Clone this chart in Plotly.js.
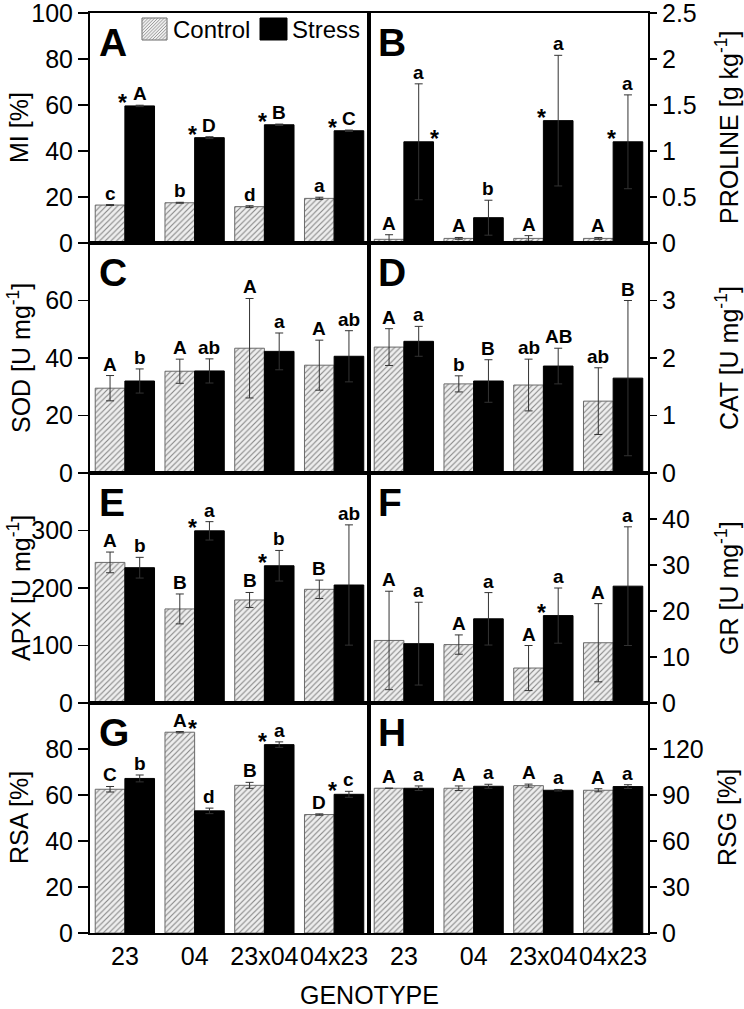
<!DOCTYPE html>
<html>
<head>
<meta charset="utf-8">
<script src="https://cdn.plot.ly/plotly-3.0.1.min.js"></script>
<style>html,body{margin:0;padding:0;background:#fff;}</style>
</head>
<body>
<div id="chart" style="width:744px;height:1009px;"></div>
<script>
const genotypes = ['23', '04', '23x04', '04x23'];
const seriesNames = ['Control', 'Stress'];

// A: MI [%]
const miControl = [16.5, 17.5, 15.8, 19.4];
const miControlErr = [0.2, 0.2, 0.4, 0.5];
const miStress = [59.6, 45.8, 51.4, 48.8];
const miStressErr = [0.3, 0.4, 0.3, 0.3];
const miControlLetters = ['c', 'b', 'd', 'a'];
const miStressLetters = ['A', 'D', 'B', 'C'];
const miStars = ['*', '*', '*', '*'];
const miTicks = [0, 20, 40, 60, 80, 100];

// B: PROLINE [g kg-1]
const prolineControl = [0.04, 0.05, 0.05, 0.05];
const prolineControlErr = [0.05, 0.01, 0.03, 0.01];
const prolineStress = [1.10, 0.275, 1.33, 1.10];
const prolineStressErr = [0.63, 0.19, 0.71, 0.51];
const prolineControlLetters = ['A', 'A', 'A', 'A'];
const prolineStressLetters = ['a', 'b', 'a', 'a'];
const prolineStars = ['*', '', '*', '*'];
const prolineTicks = [0, 0.5, 1, 1.5, 2, 2.5];

// C: SOD [U mg-1]
const sodControl = [29.5, 35.4, 43.4, 37.5];
const sodControlErr = [4.4, 4.2, 17.3, 8.7];
const sodStress = [32.0, 35.5, 42.3, 40.6];
const sodStressErr = [4.2, 4.2, 6.4, 8.9];
const sodControlLetters = ['A', 'A', 'A', 'A'];
const sodStressLetters = ['b', 'ab', 'a', 'ab'];
const sodStars = ['', '', '', ''];
const sodTicks = [0, 20, 40, 60];

// D: CAT [U mg-1]
const catControl = [2.19, 1.55, 1.53, 1.25];
const catControlErr = [0.32, 0.14, 0.45, 0.58];
const catStress = [2.29, 1.60, 1.86, 1.65];
const catStressErr = [0.26, 0.37, 0.31, 1.35];
const catControlLetters = ['A', 'b', 'ab', 'ab'];
const catStressLetters = ['a', 'B', 'AB', 'B'];
const catStars = ['', '', '', ''];
const catTicks = [0, 1, 2, 3];

// E: APX [U mg-1]
const apxControl = [244.5, 163.6, 179.2, 197.7];
const apxControlErr = [18, 26, 13, 16];
const apxStress = [235.3, 299.4, 238.7, 205.2];
const apxStressErr = [18, 16, 26.6, 104.6];
const apxControlLetters = ['A', 'B', 'B', 'B'];
const apxStressLetters = ['b', 'a', 'b', 'ab'];
const apxStars = ['', '*', '*', ''];
const apxTicks = [0, 100, 200, 300];

// F: GR [U mg-1]
const grControl = [13.6, 12.7, 7.6, 13.1];
const grControlErr = [10.7, 2.1, 4.9, 8.5];
const grStress = [12.9, 18.3, 19.0, 25.4];
const grStressErr = [9.0, 5.7, 6.0, 12.9];
const grControlLetters = ['A', 'A', 'A', 'A'];
const grStressLetters = ['a', 'a', 'a', 'a'];
const grStars = ['', '', '*', ''];
const grTicks = [0, 10, 20, 30, 40];

// G: RSA [%]
const rsaControl = [62.5, 87.3, 64.2, 51.5];
const rsaControlErr = [1.2, 0.3, 1.3, 0.3];
const rsaStress = [67.2, 53.1, 81.9, 60.3];
const rsaStressErr = [1.5, 1.2, 1.2, 1.3];
const rsaControlLetters = ['C', 'A', 'B', 'D'];
const rsaStressLetters = ['b', 'd', 'a', 'c'];
const rsaStars = ['', '*', '*', '*'];
const rsaTicks = [0, 20, 40, 60, 80];

// H: RSG [%]
const rsgControl = [94.4, 94.4, 96.1, 93.1];
const rsgControlErr = [0, 1.5, 1.0, 1.0];
const rsgStress = [94.4, 95.7, 93.1, 95.5];
const rsgStressErr = [1.5, 1.3, 0.5, 1.2];
const rsgControlLetters = ['A', 'A', 'A', 'A'];
const rsgStressLetters = ['a', 'a', 'a', 'a'];
const rsgStars = ['', '', '', ''];
const rsgTicks = [0, 30, 60, 90, 120];

const panels = [
  {id: 'A', title: 'MI [%]', range: [0, 100], ticks: miTicks, c: miControl, ce: miControlErr, s: miStress, se: miStressErr, cl: miControlLetters, sl: miStressLetters, st: miStars},
  {id: 'B', title: 'PROLINE [g kg<sup>-1</sup>]', range: [0, 2.5], ticks: prolineTicks, c: prolineControl, ce: prolineControlErr, s: prolineStress, se: prolineStressErr, cl: prolineControlLetters, sl: prolineStressLetters, st: prolineStars},
  {id: 'C', title: 'SOD [U mg<sup>-1</sup>]', range: [0, 80], ticks: sodTicks, c: sodControl, ce: sodControlErr, s: sodStress, se: sodStressErr, cl: sodControlLetters, sl: sodStressLetters, st: sodStars},
  {id: 'D', title: 'CAT [U mg<sup>-1</sup>]', range: [0, 4], ticks: catTicks, c: catControl, ce: catControlErr, s: catStress, se: catStressErr, cl: catControlLetters, sl: catStressLetters, st: catStars},
  {id: 'E', title: 'APX [U mg<sup>-1</sup>]', range: [0, 400], ticks: apxTicks, c: apxControl, ce: apxControlErr, s: apxStress, se: apxStressErr, cl: apxControlLetters, sl: apxStressLetters, st: apxStars},
  {id: 'F', title: 'GR [U mg<sup>-1</sup>]', range: [0, 50], ticks: grTicks, c: grControl, ce: grControlErr, s: grStress, se: grStressErr, cl: grControlLetters, sl: grStressLetters, st: grStars},
  {id: 'G', title: 'RSA [%]', range: [0, 100], ticks: rsaTicks, c: rsaControl, ce: rsaControlErr, s: rsaStress, se: rsaStressErr, cl: rsaControlLetters, sl: rsaStressLetters, st: rsaStars},
  {id: 'H', title: 'RSG [%]', range: [0, 150], ticks: rsgTicks, c: rsgControl, ce: rsgControlErr, s: rsgStress, se: rsgStressErr, cl: rsgControlLetters, sl: rsgStressLetters, st: rsgStars}
];

// ---- styling ----
const FONT = 'Liberation Sans, Arial, Helvetica, sans-serif';
const ML = 90, MR = 96, MT = 13, MB = 76, W = 744, H = 1009;
const plotW = W - ML - MR, plotH = H - MT - MB;
const BARGAP = 0.15;
const catPx = plotW / 2 / genotypes.length;
const barOff = catPx * (1 - BARGAP) / 4;
const starShiftOverride = {B: {0: barOff * 2 + 1}};
const CTRL_FG = '#868686', CTRL_BG = '#eeeeee', CTRL_LINE = '#6a6a6a';

const px2x = px => (px - ML) / plotW;
const px2y = py => (H - MB - py) / plotH;

const traces = [];
const layout = {
  width: W, height: H,
  margin: {l: ML, r: MR, t: MT, b: MB, pad: 0},
  paper_bgcolor: '#ffffff', plot_bgcolor: '#ffffff',
  font: {family: FONT, size: 25, color: '#000'},
  barmode: 'group', bargap: BARGAP, bargroupgap: 0,
  hovermode: false,
  showlegend: false,
  annotations: [],
  shapes: []
};

panels.forEach((p, i) => {
  const n = i + 1;
  const col = i % 2, row = Math.floor(i / 2);
  const xid = n === 1 ? 'x' : 'x' + n;
  const yid = n === 1 ? 'y' : 'y' + n;
  const xkey = n === 1 ? 'xaxis' : 'xaxis' + n;
  const ykey = n === 1 ? 'yaxis' : 'yaxis' + n;

  traces.push({
    type: 'bar', name: seriesNames[0], x: genotypes, y: p.c, xaxis: xid, yaxis: yid,
    marker: {color: CTRL_BG, line: {color: CTRL_LINE, width: 1},
             pattern: {shape: '/', fgcolor: CTRL_FG, bgcolor: CTRL_BG, size: 4, solidity: 0.28}},
    error_y: {type: 'data', array: p.ce, visible: true, color: '#333', thickness: 1, width: 4}
  });
  traces.push({
    type: 'bar', name: seriesNames[1], x: genotypes, y: p.s, xaxis: xid, yaxis: yid,
    marker: {color: '#000000', line: {color: '#000', width: 1}},
    error_y: {type: 'data', array: p.se, visible: true, color: '#333', thickness: 1, width: 4}
  });

  layout[xkey] = {
    domain: col ? [0.5, 1] : [0, 0.5], anchor: yid, type: 'category',
    categoryorder: 'array', categoryarray: genotypes, range: [-0.5, genotypes.length - 0.5],
    showline: true, mirror: true, linewidth: 2, linecolor: '#000',
    ticks: '', showticklabels: row === 3, ticklabelstandoff: 0, tickangle: 0,
    ticklabeloverflow: 'allow',
    tickfont: {size: 25, family: FONT},
    showgrid: false, zeroline: false, fixedrange: true
  };
  layout[ykey] = {
    domain: [(3 - row) * 0.25, (4 - row) * 0.25], anchor: xid, side: col ? 'right' : 'left',
    range: p.range, tickmode: 'array', tickvals: p.ticks, ticktext: p.ticks.map(String),
    ticks: 'outside', ticklen: col ? 7 : 10, tickwidth: 1.5, tickcolor: '#000',
    ticklabeloverflow: 'allow',
    showline: true, mirror: true, linewidth: 2, linecolor: '#000',
    showgrid: false, zeroline: false, fixedrange: true,
    tickfont: {size: 25, family: FONT}
  };

  // panel letter
  layout.annotations.push({
    xref: xid + ' domain', yref: yid + ' domain', x: 0.025, y: 0.975,
    xanchor: 'left', yanchor: 'top', showarrow: false,
    text: '<b>' + p.id + '</b>', font: {size: 39, family: FONT}
  });

  // y title
  const yc = ((3 - row) * 0.25 + 0.125);
  layout.annotations.push({
    xref: 'paper', yref: 'paper',
    x: col ? px2x(727) : px2x(19), y: yc,
    xanchor: 'center', yanchor: 'middle', textangle: -90, showarrow: false,
    text: p.title, font: {size: 25, family: FONT}
  });

  // significance letters and stars
  genotypes.forEach((g, j) => {
    layout.annotations.push({
      xref: xid, yref: yid, x: j, y: p.c[j] + p.ce[j], xshift: -barOff,
      xanchor: 'center', yanchor: 'bottom', showarrow: false, yshift: -1,
      text: '<b>' + p.cl[j] + '</b>', font: {size: 19, family: FONT}
    });
    layout.annotations.push({
      xref: xid, yref: yid, x: j, y: p.s[j] + p.se[j], xshift: barOff,
      xanchor: 'center', yanchor: 'bottom', showarrow: false, yshift: -1,
      text: '<b>' + p.sl[j] + '</b>', font: {size: 19, family: FONT}
    });
    if (p.st[j]) {
      const ov = starShiftOverride[p.id] && starShiftOverride[p.id][j] !== undefined ? starShiftOverride[p.id][j] : -2;
      layout.annotations.push({
        xref: xid, yref: yid, x: j, y: Math.max(p.c[j], p.s[j]), xshift: ov,
        xanchor: 'center', yanchor: 'middle', showarrow: false, yshift: 3,
        text: '<b>' + p.st[j] + '</b>', font: {size: 23, family: FONT}
      });
    }
  });
});

// x title
layout.annotations.push({
  xref: 'paper', yref: 'paper', x: 0.5, y: px2y(995),
  xanchor: 'center', yanchor: 'middle', showarrow: false,
  text: 'GENOTYPE', font: {size: 25, family: FONT}
});

// ---- legend (drawn in panel A, top) ----
function legendBox(left, top, w, h, fill, line, hatch) {
  layout.shapes.push({
    type: 'rect', xref: 'paper', yref: 'paper',
    x0: px2x(left), x1: px2x(left + w), y0: px2y(top + h), y1: px2y(top),
    fillcolor: fill, line: {color: line, width: 1}, layer: 'above'
  });
  if (hatch) {
    let d = '';
    for (let k = -h; k < w; k += 3.2) {
      const t0 = Math.max(0, -k), t1 = Math.min(h, w - k);
      if (t1 <= t0) continue;
      const xa = left + k + t0, ya = top + h - t0;
      const xb = left + k + t1, yb = top + h - t1;
      d += 'M' + px2x(xa) + ',' + px2y(ya) + 'L' + px2x(xb) + ',' + px2y(yb);
    }
    layout.shapes.push({
      type: 'path', xref: 'paper', yref: 'paper', path: d,
      line: {color: hatch, width: 0.8}, layer: 'above'
    });
  }
}
legendBox(142, 18, 25, 22, CTRL_BG, CTRL_LINE, CTRL_FG);
legendBox(260, 18, 27, 22, '#000000', '#000000', null);
layout.annotations.push({
  xref: 'paper', yref: 'paper', x: px2x(171), y: px2y(29), xanchor: 'left', yanchor: 'middle',
  showarrow: false, text: seriesNames[0], font: {size: 24, family: FONT}
});
layout.annotations.push({
  xref: 'paper', yref: 'paper', x: px2x(290), y: px2y(29), xanchor: 'left', yanchor: 'middle',
  showarrow: false, text: seriesNames[1], font: {size: 24, family: FONT}
});

Plotly.newPlot('chart', traces, layout, {displayModeBar: false, staticPlot: true});
</script>
</body>
</html>
